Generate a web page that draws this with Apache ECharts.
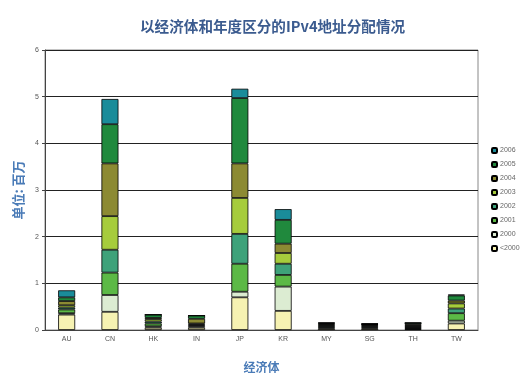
<!DOCTYPE html>
<html><head><meta charset="utf-8">
<script src="https://cdn.jsdelivr.net/npm/echarts@6/dist/echarts.min.js"></script>
<style>html,body{margin:0;padding:0;background:#fff}#c{width:520px;height:385px}</style>
</head><body><div id="c"></div>
<script>
const categories = ['AU','CN','HK','IN','JP','KR','MY','SG','TH','TW'];
const yTicks = [0,1,2,3,4,5,6];
const seriesNames = ['<2000','2000','2001','2002','2003','2004','2005','2006'];
const vLt2000 = [0.33,0.39,0.05,0.05,0.70,0.41,0.03,0.03,0.02,0.14];
const v2000   = [0.03,0.36,0.03,0.03,0.12,0.52,0.02,0.02,0.02,0.06];
const v2001   = [0.08,0.48,0.06,0.02,0.60,0.25,0.02,0.02,0.02,0.16];
const v2002   = [0.04,0.49,0.04,0.02,0.64,0.24,0.02,0.02,0.02,0.10];
const v2003   = [0.05,0.72,0.05,0.02,0.77,0.23,0.02,0.02,0.02,0.11];
const v2004   = [0.09,1.13,0.03,0.10,0.74,0.20,0.02,0.01,0.02,0.06];
const v2005   = [0.08,0.84,0.07,0.07,1.40,0.51,0.02,0.01,0.03,0.11];
const v2006   = [0.15,0.54,0.00,0.00,0.20,0.23,0.01,0.01,0.01,0.02];
const allValues = [vLt2000,v2000,v2001,v2002,v2003,v2004,v2005,v2006];
const colors = ['#f6f2b2','#dcecd2','#5cb946','#3ea27a','#a6cc3c','#8c8a33','#20893d','#1a8c9a'];

const chart = echarts.init(document.getElementById('c'));
chart.setOption({
  animation:false,
  backgroundColor:'#fff',
  title:{text:'以经济体和年度区分的IPv4地址分配情况',left:135,top:14,
    textStyle:{fontSize:14.6,fontWeight:'bold',color:'#3b5b8f',fontFamily:'Noto Sans CJK SC'}},
  legend:{orient:'vertical',left:486,top:142,itemWidth:5,itemHeight:5,itemGap:7,
    data:seriesNames.slice().reverse(),
    textStyle:{fontSize:7,color:'#666',padding:[0,0,0,-2]}},
  grid:{left:45,right:42,top:50,bottom:55,show:true,borderColor:'#888',borderWidth:1,backgroundColor:'#fff'},
  xAxis:{type:'category',data:categories,name:'经济体',nameLocation:'middle',nameGap:31,
    nameTextStyle:{fontSize:12,fontWeight:'bold',color:'#4a7bb7',fontFamily:'Noto Sans CJK SC'},
    axisLine:{lineStyle:{color:'#444'}},axisTick:{length:3,lineStyle:{color:'#444'}},
    axisLabel:{fontSize:7,color:'#555',margin:6}},
  yAxis:{type:'value',min:0,max:6,interval:1,name:'单位: 百万',nameLocation:'middle',nameGap:20,nameRotate:90,
    nameTextStyle:{fontSize:13,fontWeight:'bold',color:'#4a7bb7',fontFamily:'Noto Sans CJK SC'},
    axisLine:{show:true,lineStyle:{color:'#444'}},axisTick:{show:true,length:3,lineStyle:{color:'#444'}},
    axisLabel:{fontSize:7,color:'#555',margin:6,formatter:v=>yTicks.includes(v)?String(v):''},
    splitLine:{lineStyle:{color:'#222',width:1}}},
  series:seriesNames.map((n,i)=>({
    name:n,type:'bar',stack:'all',barWidth:17,data:allValues[i],
    itemStyle:{color:colors[i],borderColor:'#000',borderWidth:0.8}
  }))
});
</script></body></html>
